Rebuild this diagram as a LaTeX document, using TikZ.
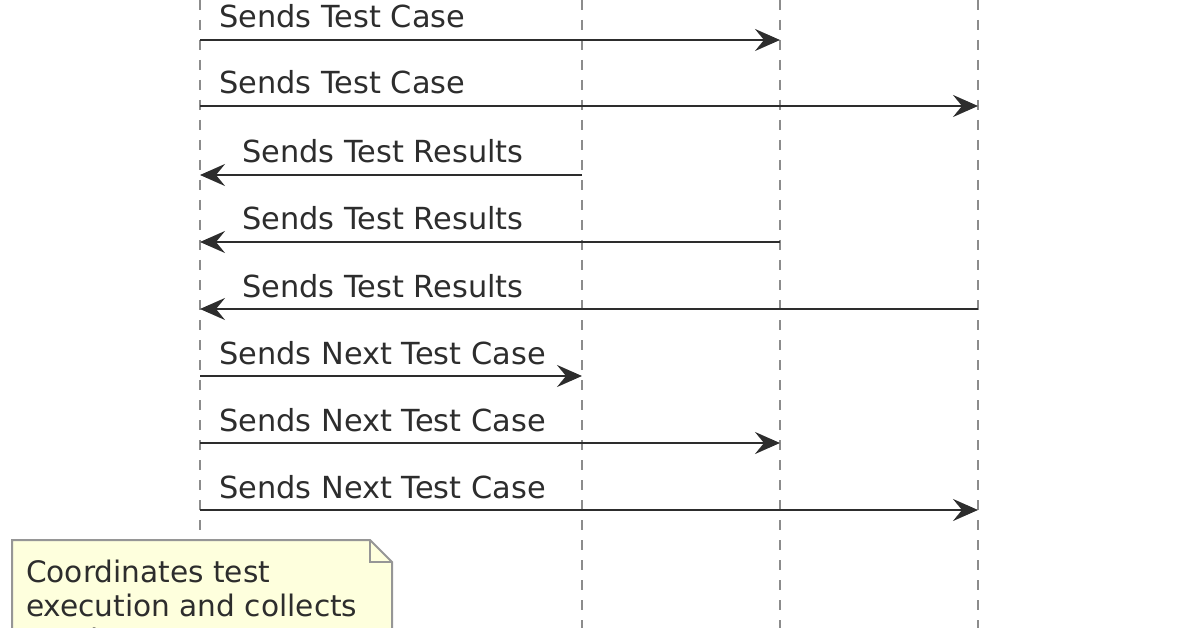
\documentclass[tikz,border=0pt]{standalone}
\usepackage{fontspec}
\setmainfont{DejaVu Sans}
\usetikzlibrary{arrows.meta}
\definecolor{notefill}{RGB}{254,255,221}
\definecolor{notedraw}{RGB}{150,150,150}
\definecolor{lifegray}{RGB}{140,140,140}
\definecolor{msgdark}{RGB}{45,45,45}

\begin{document}
\begin{tikzpicture}[x=1pt,y=-1pt,
  lifeline/.style={lifegray, line width=2pt, dash pattern=on 10pt off 10pt},
  msg/.style={msgdark, line width=2.5pt, -{Stealth[length=25pt,width=22pt,inset=9pt]}},
  msglabel/.style={anchor=base west, inner sep=0pt, text=msgdark, font=\fontsize{30.4}{34}\selectfont},
  notetext/.style={msglabel, font=\fontsize{29.6}{34}\selectfont},
]

  \useasboundingbox (0,0) rectangle (1196,628);
  \clip (0,0) rectangle (1196,628);

  % lifelines
  \coordinate (coord) at (200,0);
  \coordinate (exec1) at (582,0);
  \coordinate (exec2) at (780,0);
  \coordinate (exec3) at (978,0);

  \draw[lifeline] (coord) -- ++(0,540);
  \draw[lifeline] (exec1) -- ++(0,640);
  \draw[lifeline] (exec2) -- ++(0,640);
  \draw[lifeline] (exec3) -- ++(0,640);

  % test cases out
  \draw[msg] (coord |- 0,40) -- (exec2 |- 0,40)
    node[msglabel, at start, xshift=18pt, yshift=12pt] {Sends Test Case};
  \draw[msg] (coord |- 0,106) -- (exec3 |- 0,106)
    node[msglabel, at start, xshift=18pt, yshift=12pt] {Sends Test Case};

  % results back
  \draw[msg] (exec1 |- 0,175) -- (coord |- 0,175)
    node[msglabel, at end, xshift=41pt, yshift=12pt] {Sends Test Results};
  \draw[msg] (exec2 |- 0,242) -- (coord |- 0,242)
    node[msglabel, at end, xshift=41pt, yshift=12pt] {Sends Test Results};
  \draw[msg] (exec3 |- 0,309) -- (coord |- 0,309)
    node[msglabel, at end, xshift=41pt, yshift=12pt] {Sends Test Results};

  % next test cases
  \draw[msg] (coord |- 0,376) -- (exec1 |- 0,376)
    node[msglabel, at start, xshift=18pt, yshift=12pt] {Sends Next Test Case};
  \draw[msg] (coord |- 0,443) -- (exec2 |- 0,443)
    node[msglabel, at start, xshift=18pt, yshift=12pt] {Sends Next Test Case};
  \draw[msg] (coord |- 0,510) -- (exec3 |- 0,510)
    node[msglabel, at start, xshift=18pt, yshift=12pt] {Sends Next Test Case};

  % note
  \draw[notedraw, fill=notefill, line width=2pt]
    (12,540) -- (370,540) -- (392,562) -- (392,660) -- (12,660) -- cycle;
  \draw[notedraw, line width=2pt] (370,540) -- (370,562) -- (392,562);
  \node[notetext] (note1) at (26,582) {Coordinates test};
  \node[notetext] (note2) at (26,616) {execution and collects};
  \node[notetext] (note3) at (26,650) {results};

\end{tikzpicture}
\end{document}
